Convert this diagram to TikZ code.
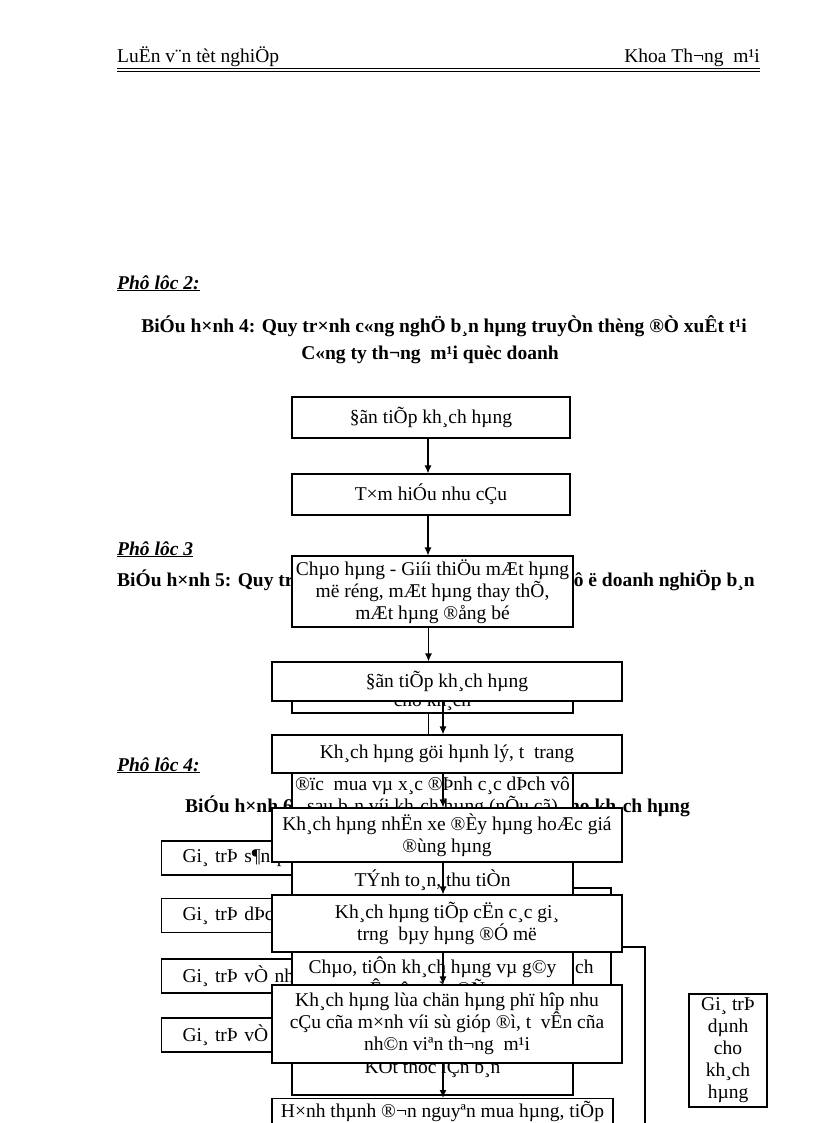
\documentclass[tikz,border=0pt]{standalone}
\usepackage{fontspec}
\setmainfont{Liberation Serif}
\usetikzlibrary{arrows.meta}

\begin{document}
\begin{tikzpicture}[
        x=1pt, y=-1pt,
        every node/.style = {inner sep=0pt, font=\fontsize{19.5}{22}\selectfont},
        box/.style = {draw, fill=white, line width=1.1pt, align=center, minimum width=350},
        backbox/.style = {draw, fill=white, line width=1.1pt, align=center, minimum width=281},
        valuebox/.style = {draw, fill=white, line width=1.1pt, anchor=west, text width=150, align=left, inner xsep=21, minimum height=34},
        heading/.style = {font=\fontsize{19.5}{22}\selectfont\bfseries},
        appendix/.style = {font=\fontsize{19.5}{22}\selectfont\bfseries\itshape, anchor=base west},
        flow/.style = {-{Latex[length=8,width=7]}, line width=1.1pt},
        link/.style = {line width=1.1pt}
    ]
        \fill[white] (0,0) rectangle (816,1123);
        \useasboundingbox (0,0) rectangle (816,1123);
        \clip (0,0) rectangle (816,1123);

        \node[anchor=base west] (runleft) at (117,63) {LuËn v¨n tèt nghiÖp};
        \node[anchor=base east] (runright) at (760,63) {Khoa Th¬ng\ \ m¹i};
        \draw[line width=1.5] (117,68.5) -- (760,68.5);
        \draw[line width=0.6] (117,71.5) -- (760,71.5);

        \node[appendix] (pl2) at (117,289) {\underline{Phô lôc 2:}};
        \node[heading, anchor=base] (title4a) at (444,332) {BiÓu h×nh 4: Quy tr×nh c«ng nghÖ b¸n hµng truyÒn thèng ®Ò xuÊt t¹i};
        \node[heading, anchor=base] (title4b) at (430,359) {C«ng ty th¬ng\ \ m¹i quèc doanh};

        \node[appendix] (pl3) at (117,555) {\underline{Phô lôc 3}};
        \node[heading, anchor=base west] (title5a) at (117,586) {BiÓu h×nh 5: Quy tr};
        \node[heading, anchor=base east] (title5b) at (755,586) {vô ë doanh nghiÖp b¸n};

        \node[appendix] (pl4) at (117,771) {\underline{Phô lôc 4:}};
        \node[heading, anchor=base west] (title6a) at (185,812) {BiÓu h×nh 6};
        \node[heading, anchor=base east] (title6b) at (690,812) {cho kh¸ch hµng};
        \node[valuebox] (v1) at (161,858) {Gi¸ trÞ s¶n ph};
        \node[valuebox] (v2) at (161,915.5) {Gi¸ trÞ dÞc};
        \node[valuebox] (v3) at (161,976) {Gi¸ trÞ vÒ nh©};
        \node[valuebox] (v4) at (161,1035) {Gi¸ trÞ vÒ h};
        \node[draw, line width=1.1pt, minimum width=231, minimum height=118] (total) at (495.5,947) {};
        \node[anchor=base west] (totaltext) at (575,973) {ch};
        \coordinate (totalend) at (645,1140);
        \draw[link] (total.east) -| (totalend);
        \node[draw, fill=white, line width=1.1pt, align=center, minimum width=78, minimum height=113] (delivered) at (728,1050.5) {Gi¸ trÞ\\dµnh\\cho\\kh¸ch\\hµng};

        \node[backbox, minimum height=48] (p3a) at (432.5,689) {};
        \node[anchor=base] (p3atext) at (432.5,706) {cho kh¸ch};
        \node[backbox, minimum height=93] (p3b) at (432.5,796.5) {®ïc\ \ mua vµ x¸c ®Þnh c¸c dÞch vô\\sau b¸n víi kh¸ch hµng (nÕu cã)};
        \node[backbox, minimum height=60] (p3c) at (432.5,880) {TÝnh to¸n, thu tiÒn};
        \node[backbox, minimum height=76] (p3d) at (432.5,978) {Chµo, tiÔn kh¸ch hµng vµ g©y\\Ên tîng tèt ®Ñp};
        \node[backbox, minimum height=56] (p3e) at (432.5,1067) {KÕt thóc lÇn b¸n};

        \node[box, minimum width=278, minimum height=41] (b1) at (431,417.5) {§ãn tiÕp kh¸ch hµng};
        \node[box, minimum width=278, minimum height=41] (b2) at (431,494.5) {T×m hiÓu nhu cÇu};
        \node[box, minimum width=281, minimum height=71] (b3) at (432.5,591.5) {Chµo hµng - Giíi thiÖu mÆt hµng\\më réng, mÆt hµng thay thÕ,\\mÆt hµng ®ång bé};
        \draw[link] ([xshift=-4]p3a.south) -- ([xshift=-4]p3a.south |- 0,735);
        \node[box, minimum height=39] (b4) at (447,681.5) {§ãn tiÕp kh¸ch hµng};
        \node[box, minimum height=38] (b5) at (447,754) {Kh¸ch hµng göi hµnh lý, t\ \ trang};
        \node[box, minimum height=54] (b6) at (447,835) {Kh¸ch hµng nhËn xe ®Èy hµng hoÆc giá\\®ùng hµng};
        \node[box, minimum height=57] (b7) at (447,923.5) {Kh¸ch hµng tiÕp cËn c¸c gi¸\\trng\ \ bµy hµng ®Ó më};
        \node[box, minimum height=78] (b9) at (447,1024) {Kh¸ch hµng lùa chän hµng phï hîp nhu\\cÇu cña m×nh víi sù gióp ®ì, t\ \ vÊn cña\\nh©n viªn th¬ng\ \ m¹i};
        \node[box, minimum width=341, anchor=north, inner ysep=3] (b10) at (442.5,1098) {H×nh thµnh ®¬n nguyªn mua hµng, tiÕp\\ \mbox{}};

        \draw[flow] ([xshift=-3]b1.south) -- ([xshift=-3]b2.north);
        \draw[flow] ([xshift=-3]b2.south) -- ([xshift=-3]b2.south |- b3.north);
        \draw[flow] ([xshift=-4]b3.south) -- ([xshift=-4]b3.south |- b4.north);
        \draw[flow] ([xshift=-4]b4.south) -- ([xshift=-4]b5.north);
        \draw[flow] ([xshift=-4]b5.south) -- ([xshift=-4]b6.north);
        \draw[flow] ([xshift=-4]b6.south) -- ([xshift=-4]b7.north);
        \draw[flow] ([xshift=-4]b7.south) -- ([xshift=-4]b9.north);
        \draw[flow] ([xshift=-4]b9.south) -- ([xshift=-4]b9.south |- b10.north);
    \end{tikzpicture}
\end{document}
